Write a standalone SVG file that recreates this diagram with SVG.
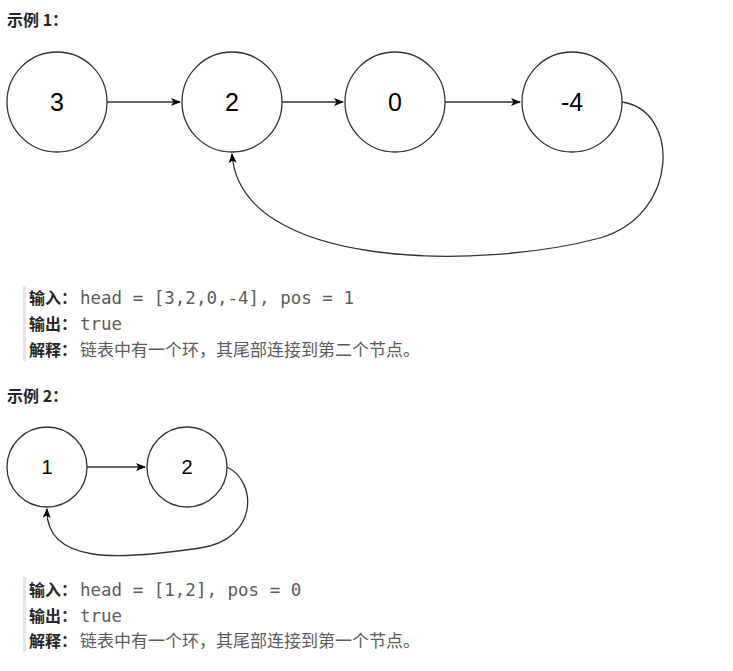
<svg xmlns="http://www.w3.org/2000/svg" width="733" height="671" viewBox="0 0 733 671">
<style>
.n{fill:#fff;stroke:#333;stroke-width:1.3}
.nt{font-family:"Liberation Sans",Arial,sans-serif;font-size:25px;fill:#000;text-anchor:middle}
.nt2{font-family:"Liberation Sans",Arial,sans-serif;font-size:20px;fill:#000;text-anchor:middle}
.e{fill:none;stroke:#333;stroke-width:1.3}
.h{font-family:"Noto Sans CJK SC",sans-serif;font-size:16px;font-weight:bold;fill:#262626}
.b{font-family:"Noto Sans CJK SC",sans-serif;font-size:16px;font-weight:bold;fill:#262626}
.m{font-family:"DejaVu Sans Mono",monospace;font-size:17.5px;fill:#5c5c5c}
.c{font-family:"Noto Sans CJK SC",sans-serif;font-size:17px;fill:#5c5c5c}
</style>
<defs><marker id="a" markerWidth="10" markerHeight="10" refX="9" refY="5" orient="auto" markerUnits="userSpaceOnUse"><path d="M0,1 L10,5 L0,9 L2.5,5 Z" fill="#000"/></marker></defs>
<rect width="733" height="671" fill="#fff"/>
<text class="h" x="7" y="26">示例 1：</text>
<g id="conn">
<path class="e" d="M107,102 H180" marker-end="url(#a)"/>
<path class="e" d="M282,102 H343" marker-end="url(#a)"/>
<path class="e" d="M445,102 H520" marker-end="url(#a)"/>
<path class="e" d="M622,102 C680,110 680,215 600,238 C480,270 240,270 232,154" marker-end="url(#a)"/>
<path class="e" d="M87,467 H145" marker-end="url(#a)"/>
<path class="e" d="M227,467 C258,482 258,540 200,548 C120,560 45,565 47,509" marker-end="url(#a)"/>
</g>
<g id="n3"><circle class="n" cx="57" cy="102" r="50"/><text class="nt" x="57" y="111">3</text></g>
<g id="n2"><circle class="n" cx="232" cy="102" r="50"/><text class="nt" x="232" y="111">2</text></g>
<g id="n0"><circle class="n" cx="395" cy="102" r="50"/><text class="nt" x="395" y="111">0</text></g>
<g id="n-4"><circle class="n" cx="572" cy="102" r="50"/><text class="nt" x="572" y="111">-4</text></g>
<rect x="23" y="286" width="3" height="75" fill="#e5e5e5"/>
<text class="b" x="29" y="304">输入：</text><text class="m" x="80" y="304">head = [3,2,0,-4], pos = 1</text>
<text class="b" x="29" y="330">输出：</text><text class="m" x="80" y="330">true</text>
<text class="b" x="29" y="356">解释：</text><text class="c" x="80" y="356">链表中有一个环，其尾部连接到第二个节点。</text>
<text class="h" x="7" y="402">示例 2：</text>
<g id="m1"><circle class="n" cx="47" cy="467" r="40"/><text class="nt2" x="47" y="474">1</text></g>
<g id="m2"><circle class="n" cx="187" cy="467" r="40"/><text class="nt2" x="187" y="474">2</text></g>
<rect x="23" y="577" width="3" height="75" fill="#e5e5e5"/>
<text class="b" x="29" y="596">输入：</text><text class="m" x="80" y="596">head = [1,2], pos = 0</text>
<text class="b" x="29" y="622">输出：</text><text class="m" x="80" y="622">true</text>
<text class="b" x="29" y="647">解释：</text><text class="c" x="80" y="647">链表中有一个环，其尾部连接到第一个节点。</text>
</svg>
